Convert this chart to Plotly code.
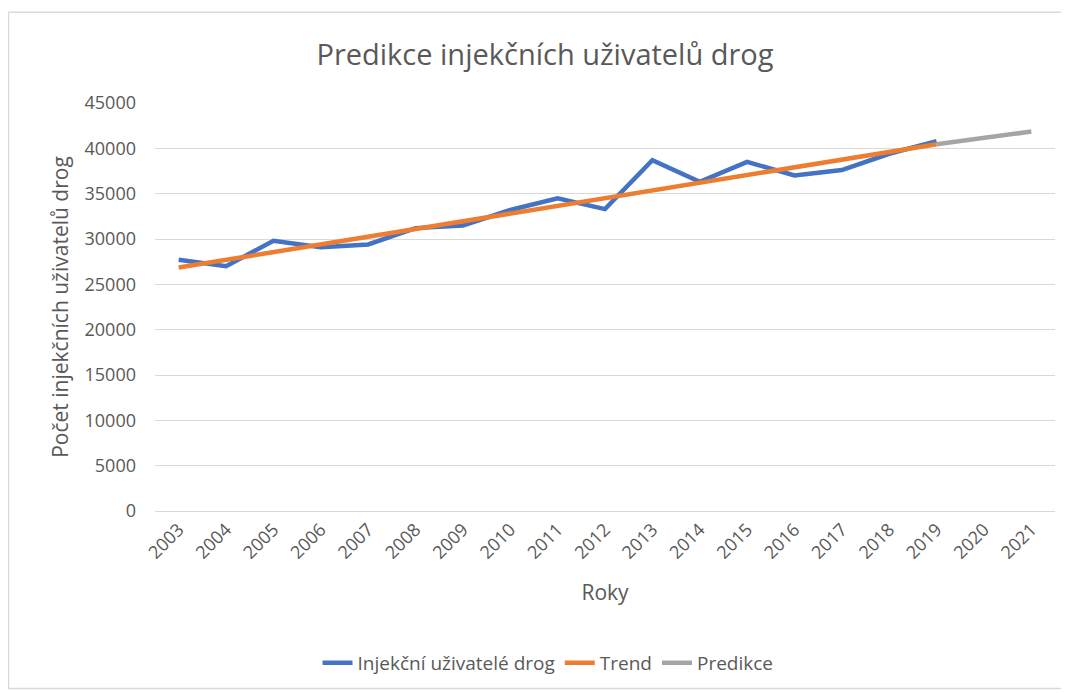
import plotly.graph_objects as go

years = [str(y) for y in range(2003, 2022)]
users_years = years[:17]
users = [27700, 27000, 29800, 29100, 29400, 31200, 31500, 33200, 34500, 33300,
         38700, 36300, 38500, 37000, 37600, 39400, 40800]
trend_years = years[:17]
trend = [26850, 27700, 28550, 29400, 30250, 31100, 31950, 32800, 33650, 34500,
         35350, 36200, 37050, 37900, 38750, 39600, 40450]
pred_years = ["2019", "2020", "2021"]
pred = [40450, 41200, 41850]

FONT = "Open Sans"
TXT = "#595959"

# the page body adds an 8px offset; figure size / margins compensate
W, H = 1061, 685
L, R, T, B = 147, 14, 95, 181
PW, PH = W - L - R, H - T - B

fig = go.Figure()
fig.add_trace(go.Scatter(x=users_years, y=users, mode="lines", name="Injekční uživatelé drog",
                         line=dict(color="#4472C4", width=4.5)))
fig.add_trace(go.Scatter(x=trend_years, y=trend, mode="lines", name="Trend",
                         line=dict(color="#ED7D31", width=4.5)))
fig.add_trace(go.Scatter(x=pred_years, y=pred, mode="lines", name="Predikce",
                         line=dict(color="#A5A5A5", width=4.5)))

fig.update_layout(
    width=W, height=H,
    margin=dict(l=L, r=R, t=T, b=B),
    paper_bgcolor="white", plot_bgcolor="white",
    font=dict(family=FONT, color=TXT, size=18),
    title=dict(text="Predikce injekčních uživatelů drog", x=(545 - 8) / W, xanchor="center",
               y=1 - 47 / H, yanchor="middle",
               font=dict(family=FONT, size=29, color=TXT)),
    showlegend=True,
    legend=dict(orientation="h", x=(548 - 8 - L) / PW, xanchor="center",
                y=(T + PH - 655) / PH, yanchor="middle",
                font=dict(family=FONT, size=19, color=TXT), itemwidth=30,
                traceorder="normal", tracegroupgap=0),
    xaxis=dict(type="category", categoryorder="array", categoryarray=years,
               range=[-0.5, 18.5], tickangle=-45, showgrid=False,
               showline=True, linecolor="#d9d9d9", linewidth=1, ticks="",
               tickfont=dict(size=18, color=TXT),
               title=dict(text="Roky", font=dict(size=21, color=TXT), standoff=22)),
    yaxis=dict(range=[0, 45000], dtick=5000, tickformat="d", showgrid=True,
               gridcolor="#d9d9d9", gridwidth=1.3, zeroline=False, showline=False,
               ticks="", tickfont=dict(size=18, color=TXT), ticklabelstandoff=18,
               title=dict(text="Počet injekčních uživatelů drog",
                          font=dict(size=21, color=TXT), standoff=10)),
    shapes=[dict(type="rect", xref="paper", yref="paper",
                 x0=(0.5 - L) / PW, x1=(W - 1 - L) / PW,
                 y0=(T + PH - (H - 3)) / PH, y1=(T + PH - 4) / PH,
                 line=dict(color="#d9d9d9", width=1.5), fillcolor="rgba(0,0,0,0)",
                 layer="below")],
)

fig.write_html("out.html")
